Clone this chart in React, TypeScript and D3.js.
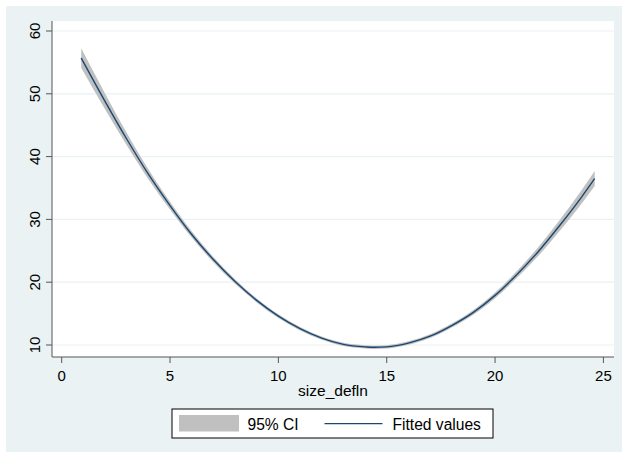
import React from "react";
import * as d3 from "d3";

const xs = [0.9, 2, 3, 4, 5, 6, 7, 8, 9, 10, 11, 12, 13, 14, 14.4, 15, 16, 17, 18, 19, 20, 21, 22, 23, 24, 24.6];
const fitted = [55.7, 48.8, 42.8, 37.2, 32.2, 27.6, 23.6, 20.1, 17.1, 14.6, 12.6, 11.1, 10.1, 9.7, 9.63, 9.7, 10.3, 11.4, 13.1, 15.2, 17.9, 21.2, 24.9, 29.1, 33.6, 36.5];
const ciLow = [54.15, 47.55, 41.8, 36.4, 31.58, 27.1, 23.18, 19.74, 16.78, 14.3, 12.32, 10.83, 9.83, 9.43, 9.36, 9.43, 10.02, 11.1, 12.77, 14.82, 17.45, 20.65, 24.2, 28.23, 32.52, 35.3];
const ciHigh = [57.25, 50.05, 43.8, 38.0, 32.82, 28.1, 24.02, 20.46, 17.42, 14.9, 12.88, 11.37, 10.37, 9.97, 9.9, 9.97, 10.58, 11.7, 13.43, 15.58, 18.35, 21.75, 25.6, 29.97, 34.68, 37.7];
const xTicks = [0, 5, 10, 15, 20, 25];
const yTicks = [10, 20, 30, 40, 50, 60];
const xTitle = "size_defln";
const legendLabels = ["95% CI", "Fitted values"];

const W = 622, H = 453;
const plot = { left: 52, right: 614, top: 21, bottom: 357 };
const FONT = "'Liberation Sans', Arial, Helvetica, sans-serif";

export default function App() {
  const x = d3.scaleLinear().domain([0, 25]).range([61.7, 603.4]);
  const y = d3.scaleLinear().domain([10, 60]).range([345, 31]);
  const idx = xs.map((_, i) => i);
  const area = d3
    .area<number>()
    .x((i) => x(xs[i]))
    .y0((i) => y(ciLow[i]))
    .y1((i) => y(ciHigh[i]))
    .curve(d3.curveMonotoneX);
  const line = d3
    .line<number>()
    .x((i) => x(xs[i]))
    .y((i) => y(fitted[i]))
    .curve(d3.curveMonotoneX);

  return (
    <svg width={W} height={H} style={{ position: "absolute", left: 0, top: 0, background: "#fff" }} fontFamily={FONT}>
      <rect x={6} y={6} width={W - 6} height={H - 7} fill="#eaf2f3" />
      <rect x={plot.left} y={plot.top} width={plot.right - plot.left} height={plot.bottom - plot.top} fill="#ffffff" />
      {yTicks.map((t) => (
        <line key={"g" + t} x1={plot.left} x2={plot.right} y1={y(t)} y2={y(t)} stroke="#eaf2f3" strokeWidth={1.2} />
      ))}
      <path d={area(idx) || ""} fill="#c0c0c0" />
      <path d={line(idx) || ""} fill="none" stroke="#1a476f" strokeWidth={1.4} />
      <line x1={plot.left} x2={plot.left} y1={plot.top} y2={plot.bottom} stroke="#555" strokeWidth={1} />
      <line x1={plot.left} x2={plot.right} y1={plot.bottom} y2={plot.bottom} stroke="#555" strokeWidth={1} />
      {yTicks.map((t) => (
        <g key={"y" + t}>
          <line x1={plot.left - 6} x2={plot.left} y1={y(t)} y2={y(t)} stroke="#555" />
          <text transform={`translate(39.5,${y(t)}) rotate(-90)`} textAnchor="middle" fontSize={15} fill="#000">
            {t}
          </text>
        </g>
      ))}
      {xTicks.map((t) => (
        <g key={"x" + t}>
          <line x1={x(t)} x2={x(t)} y1={plot.bottom} y2={plot.bottom + 6} stroke="#555" />
          <text x={x(t)} y={380.5} textAnchor="middle" fontSize={15} fill="#000">
            {t}
          </text>
        </g>
      ))}
      <text x={333} y={396} textAnchor="middle" fontSize={15.5} fill="#000">
        {xTitle}
      </text>
      <rect x={172} y={409} width={321} height={29} fill="#fff" stroke="#000" strokeWidth={1} />
      <rect x={179} y={415} width={60} height={16.5} fill="#c0c0c0" />
      <text x={247.5} y={429.5} fontSize={15.6} fill="#000">
        {legendLabels[0]}
      </text>
      <line x1={324.5} x2={382.5} y1={423.7} y2={423.7} stroke="#1a476f" strokeWidth={1.3} />
      <text x={392.5} y={429.5} fontSize={15.6} fill="#000">
        {legendLabels[1]}
      </text>
    </svg>
  );
}
